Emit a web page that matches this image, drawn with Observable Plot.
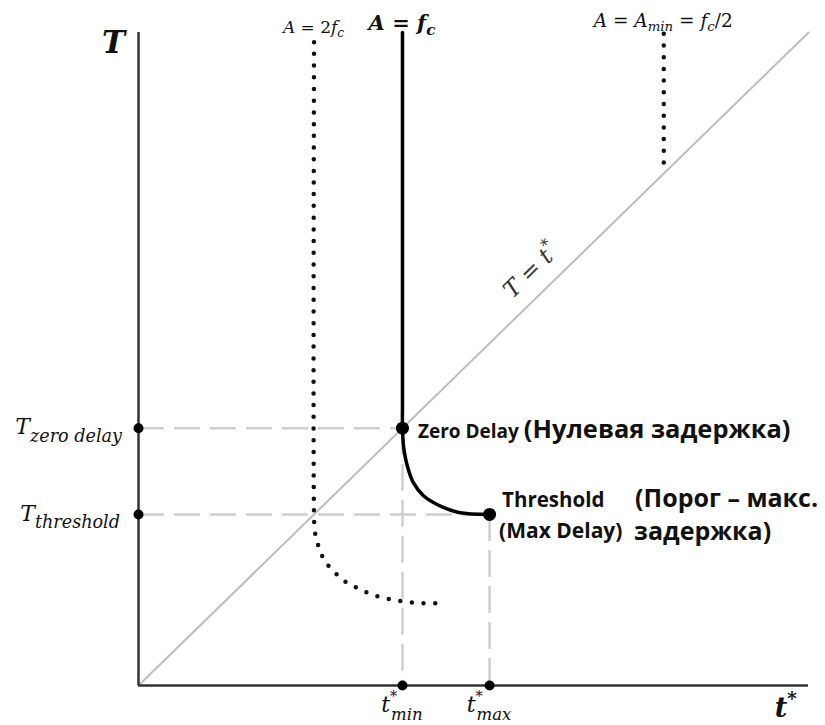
<!DOCTYPE html>
<html>
<head>
<meta charset="utf-8">
<script src="https://cdn.jsdelivr.net/npm/d3@7"></script>
<script src="https://cdn.jsdelivr.net/npm/@observablehq/plot@0.6"></script>
<style>
  html, body { margin: 0; padding: 0; background: #fff; }
  #chart svg { display: block; }
</style>
</head>
<body>
<div id="chart"></div>
<script>
// Characteristic abscissas (t*) and ordinates (T)
const tMin = 3.94, tMax = 5.24;
const tZeroDelay = 3.94, tThreshold = 2.62;
const x2fc = 2.62, xAmin = 7.84;
const axisMax = 10;

// Identity line T = t*
const diagonal = [[0, 0], [axisMax, axisMax]];

// A = f_c : vertical branch down to the zero-delay point, then bending to the threshold
const fcCurve = [
  [3.94, 10.0], [3.94, 4.30], [3.94, 3.94], [3.96, 3.63], [4.01, 3.37], [4.10, 3.11],
  [4.25, 2.91], [4.48, 2.76], [4.78, 2.65], [5.24, 2.62]
];

// A = 2 f_c : dotted branch
const fc2Curve = [
  [2.62, 9.85], [2.62, 2.60], [2.63, 2.37], [2.67, 2.19], [2.73, 2.01], [2.83, 1.84],
  [2.96, 1.70], [3.10, 1.58], [3.27, 1.49], [3.44, 1.41], [3.62, 1.35], [3.81, 1.31],
  [4.00, 1.28], [4.18, 1.26], [4.37, 1.26], [4.58, 1.25]
];

// A = A_min = f_c/2 : dotted stub ending on the identity line
const aMinLine = [[xAmin, 9.98], [xAmin, xAmin]];

// Reference points
const axisDotsY = [tZeroDelay, tThreshold];
const axisDotsX = [tMin, tMax];
const keyPoints = [[tMin, tZeroDelay], [tMax, tThreshold]];

const SERIF = "'DejaVu Serif', serif";
const SANS = "'Open Sans', 'Noto Sans', sans-serif";
const dashGray = "#cfcfcf";

const plot = Plot.plot({
  width: 825,
  height: 725,
  marginLeft: 138,
  marginRight: 17,
  marginTop: 32,
  marginBottom: 40,
  x: { domain: [0, axisMax], axis: null },
  y: { domain: [0, axisMax], axis: null },
  marks: [
    // identity line
    Plot.line(diagonal, { x: d => d[0], y: d => d[1], stroke: "#bdbdbd", strokeWidth: 2 }),
    // dashed guides to the axes
    Plot.ruleY([tZeroDelay], { x1: 0, x2: tMin, stroke: dashGray, strokeWidth: 2.5, strokeDasharray: "26,10" }),
    Plot.ruleY([tThreshold], { x1: 0, x2: tMax, stroke: dashGray, strokeWidth: 2.5, strokeDasharray: "26,10" }),
    Plot.ruleX([tMin], { y1: tZeroDelay, y2: 0, stroke: dashGray, strokeWidth: 2.5, strokeDasharray: "27,9" }),
    Plot.ruleX([tMax], { y1: tThreshold, y2: 0, stroke: dashGray, strokeWidth: 2.5, strokeDasharray: "27,9" }),
    // axes
    Plot.ruleX([0], { y1: 0, y2: axisMax, stroke: "#333", strokeWidth: 2.5 }),
    Plot.ruleY([0], { x1: 0, x2: axisMax, stroke: "#333", strokeWidth: 2.5 }),
    // dotted branches
    Plot.line(fc2Curve, { x: d => d[0], y: d => d[1], curve: "catmull-rom", stroke: "#111",
      strokeWidth: 4.5, strokeDasharray: "0,11.7", strokeLinecap: "round" }),
    Plot.line(aMinLine, { x: d => d[0], y: d => d[1], stroke: "#111",
      strokeWidth: 4.5, strokeDasharray: "0,11.7", strokeLinecap: "round" }),
    // A = f_c
    Plot.line(fcCurve, { x: d => d[0], y: d => d[1], curve: "catmull-rom", stroke: "#000", strokeWidth: 3.5 }),
    // points
    Plot.dot(axisDotsY, { x: 0, y: d => d, r: 5, fill: "#000" }),
    Plot.dot(axisDotsX, { x: d => d, y: 0, r: 5, fill: "#000" }),
    Plot.dot(keyPoints, { x: d => d[0], y: d => d[1], r: 6.5, fill: "#000" })
  ]
});

document.getElementById("chart").appendChild(plot);

// ---- labels with sub/superscripts, placed through the plot's scales ----
const sx = v => plot.scale("x").apply(v);
const sy = v => plot.scale("y").apply(v);
const layer = d3.select(plot).append("g");

function rich(g, x, y, parts, opt) {
  const t = g.append("text")
    .attr("x", x).attr("y", y)
    .attr("text-anchor", opt.anchor || "start")
    .attr("font-family", opt.family)
    .attr("font-size", opt.size)
    .attr("font-style", opt.style || "normal")
    .attr("font-weight", opt.weight || "normal")
    .attr("fill", opt.fill || "#111");
  if (opt.transform) t.attr("transform", opt.transform);
  let cur = 0;
  for (const p of parts) {
    const size = (p.scale || 1) * opt.size;
    const off = (p.shift || 0) * opt.size;
    const s = t.append("tspan").text(p.t).attr("font-size", size);
    if (off - cur !== 0) s.attr("dy", off - cur);
    if (p.dx) s.attr("dx", p.dx * opt.size);
    if (p.style) s.attr("font-style", p.style);
    if (p.weight) s.attr("font-weight", p.weight);
    cur = off;
  }
  return t;
}
const SUB = { scale: 0.72, shift: 0.22 };
const UP = { style: "normal" };

const topY = sy(axisMax);

// axis titles
rich(layer, sx(0) - 13, topY + 21, [{ t: "T" }], { family: SERIF, size: 31, style: "italic", weight: "bold", anchor: "end" });
rich(layer, sx(axisMax) - 11, sy(0) + 32, [{ t: "t" }, { t: "*", scale: 0.7, shift: -0.45 }],
  { family: SERIF, size: 27, style: "italic", weight: "bold", anchor: "end" });

// curve labels
rich(layer, sx(x2fc), topY + 1, [{ t: "A" }, { t: " = 2", ...UP }, { t: "f" }, { t: "c", ...SUB }],
  { family: SERIF, size: 17, style: "italic", anchor: "middle" });
rich(layer, sx(tMin), topY - 2, [{ t: "A" }, { t: " = ", ...UP }, { t: "f" }, { t: "c", ...SUB }],
  { family: SERIF, size: 21, style: "italic", weight: "bold", anchor: "middle" });
rich(layer, sx(xAmin), topY - 5,
  [{ t: "A" }, { t: " = ", ...UP }, { t: "A" }, { t: "min", ...SUB }, { t: " = ", ...UP, shift: 0 },
   { t: "f" }, { t: "c", ...SUB }, { t: "/2", ...UP, shift: 0 }],
  { family: SERIF, size: 18.5, style: "italic", anchor: "middle" });

// T = t* along the identity line
const angle = Math.atan2(sy(0) - sy(axisMax), sx(axisMax) - sx(0)) * 180 / Math.PI;
const dPos = 6.1;
rich(layer, 0, -15, [{ t: "T" }, { t: " = ", ...UP }, { t: "t" }, { t: "*", scale: 0.7, shift: -0.45 }],
  { family: SERIF, size: 23, style: "italic", fill: "#333", anchor: "middle",
    transform: `translate(${sx(dPos)},${sy(dPos)}) rotate(${-angle})` });

// y-axis value labels
rich(layer, sx(0) - 16, sy(tZeroDelay) + 6, [{ t: "T" }, { t: "zero delay", scale: 0.8, shift: 0.36 }],
  { family: SERIF, size: 22, style: "italic", anchor: "end" });
rich(layer, sx(0) - 18, sy(tThreshold) + 7, [{ t: "T" }, { t: "threshold", scale: 0.8, shift: 0.3 }],
  { family: SERIF, size: 22, style: "italic", anchor: "end" });

// x-axis value labels
for (const [v, name] of [[tMin, "min"], [tMax, "max"]]) {
  rich(layer, sx(v), sy(0) + 27,
    [{ t: "t" }, { t: "*", scale: 0.65, shift: -0.5 }, { t: name, scale: 0.75, shift: 0.36, dx: -0.28 }],
    { family: SERIF, size: 22, style: "italic", anchor: "middle" });
}

// point annotations
rich(layer, sx(tMin) + 16, sy(tZeroDelay) + 10,
  [{ t: "Zero Delay " }, { t: "(Нулевая задержка)", scale: 1.34 }],
  { family: SANS, size: 19, weight: "bold", fill: "#111" });
rich(layer, sx(tMax) + 13, sy(tThreshold) - 7, [{ t: "Threshold" }],
  { family: SANS, size: 20.5, weight: "bold", fill: "#111" });
rich(layer, sx(tMax) + 10, sy(tThreshold) + 24, [{ t: "(Max Delay)" }],
  { family: SANS, size: 21, weight: "bold", fill: "#111" });
rich(layer, sx(tMax) + 146, sy(tThreshold) - 7, [{ t: "(Порог – макс." }],
  { family: SANS, size: 25, weight: "bold", fill: "#111" });
rich(layer, sx(tMax) + 145, sy(tThreshold) + 26, [{ t: "задержка)" }],
  { family: SANS, size: 25, weight: "bold", fill: "#111" });
</script>
</body>
</html>
